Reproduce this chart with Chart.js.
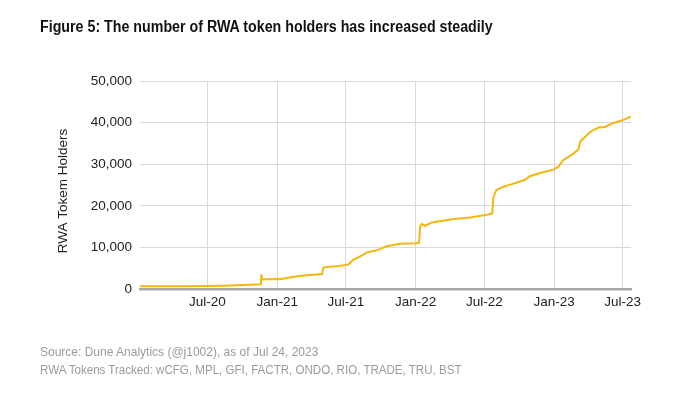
<!DOCTYPE html>
<html>
<head>
<meta charset="utf-8">
<script src="https://cdn.jsdelivr.net/npm/chart.js@4.4.1/dist/chart.umd.min.js"></script>
<style>
  html, body { margin: 0; padding: 0; background: #fff; }
  #wrap { position: relative; width: 674px; height: 393px; overflow: hidden; }
  #c { position: absolute; left: 0; top: 0; }
  .txt { position: absolute; left: 40px; white-space: nowrap; font-family: 'Liberation Sans', Arial, sans-serif; transform-origin: 0 50%; }
  #title { top: 18px; font-size: 16px; font-weight: bold; color: #111; transform: scaleX(0.89); }
  .foot { font-size: 12.5px; color: #9b9b9b; }
  #f1 { top: 345px; transform: scaleX(0.96); }
  #f2 { top: 363px; transform: scaleX(0.925); }
</style>
</head>
<body>
<div id="wrap">
  <canvas id="c" width="674" height="393"></canvas>
  <div id="title" class="txt">Figure 5: The number of RWA token holders has increased steadily</div>
  <div id="f1" class="txt foot">Source: Dune Analytics (@j1002), as of Jul 24, 2023</div>
  <div id="f2" class="txt foot">RWA Tokens Tracked: wCFG, MPL, GFI, FACTR, ONDO, RIO, TRADE, TRU, BST</div>
</div>
<script>
// ---- data ----
const dates = [
  '2020-01-05','2020-03-01','2020-05-01','2020-07-01','2020-08-15','2020-10-01','2020-11-19','2020-11-20','2020-11-22','2020-12-10',
  '2021-01-01','2021-01-09','2021-02-13','2021-03-20','2021-04-29','2021-05-03','2021-06-10','2021-07-08','2021-07-20','2021-08-03',
  '2021-08-26','2021-09-21','2021-10-17','2021-11-21','2021-12-31','2022-01-10','2022-01-13','2022-01-17','2022-01-26','2022-02-13',
  '2022-04-11','2022-05-25','2022-07-12','2022-07-22','2022-07-25','2022-08-02','2022-08-21','2022-09-08','2022-09-25','2022-10-15',
  '2022-10-29','2022-11-25','2022-12-30','2023-01-12','2023-01-25','2023-02-08','2023-02-21','2023-03-06','2023-03-12','2023-03-24',
  '2023-04-06','2023-04-28','2023-05-15','2023-06-06','2023-07-01','2023-07-23'
];
const holders = [
  650, 660, 690, 730, 800, 950, 1150, 3500, 2300, 2350,
  2400, 2350, 2950, 3300, 3600, 5200, 5500, 5900, 7000, 7600,
  8800, 9300, 10300, 10900, 11000, 11100, 15000, 15600, 15200, 16000,
  16800, 17200, 17900, 18200, 22000, 23800, 24600, 25100, 25600, 26200,
  27100, 27900, 28700, 29350, 30950, 31750, 32550, 33500, 35600, 36550,
  37750, 38800, 38950, 39900, 40550, 41500
];
const tickDates = ['2020-07-01','2021-01-01','2021-07-01','2022-01-01','2022-07-01','2023-01-01','2023-07-01'];
const tickLabels = ['Jul-20','Jan-21','Jul-21','Jan-22','Jul-22','Jan-23','Jul-23'];
const xRange = ['2020-01-05','2023-07-23'];
const yTicks = [0, 10000, 20000, 30000, 40000, 50000];
const yTitle = 'RWA Tokem Holders';

const toMs = s => Date.parse(s + 'T00:00:00Z');
const points = dates.map((d, i) => ({ x: toMs(d), y: holders[i] }));
const tickMs = tickDates.map(toMs);

const tickFont = { family: "'Liberation Sans', Arial, sans-serif", size: 13.5 };

// y-axis title drawn centred at the reference position
const yTitlePlugin = {
  id: 'yTitle',
  afterDraw(chart) {
    const { ctx, chartArea } = chart;
    ctx.save();
    ctx.translate(63, (chartArea.top + chartArea.bottom) / 2 + 6);
    ctx.rotate(-Math.PI / 2);
    ctx.font = "13.5px 'Liberation Sans', Arial, sans-serif";
    ctx.fillStyle = '#222';
    ctx.textAlign = 'center';
    ctx.textBaseline = 'middle';
    ctx.fillText(yTitle, 0, 0);
    ctx.restore();
  }
};

new Chart(document.getElementById('c'), {
  type: 'line',
  data: {
    datasets: [{
      data: points,
      borderColor: '#F5B70F',
      borderWidth: 2,
      pointRadius: 0,
      tension: 0,
      fill: false
    }]
  },
  plugins: [yTitlePlugin],
  options: {
    responsive: false,
    animation: false,
    events: [],
    layout: { padding: { top: 81, right: 43, left: 0, bottom: 0 } },
    plugins: { legend: { display: false }, tooltip: { enabled: false }, title: { display: false } },
    scales: {
      x: {
        type: 'linear',
        min: toMs(xRange[0]),
        max: toMs(xRange[1]),
        afterBuildTicks: s => { s.ticks = tickMs.map(v => ({ value: v })); },
        afterFit: s => { s.height = 104; },
        ticks: {
          autoSkip: false,
          maxRotation: 0,
          padding: 5,
          color: '#222',
          font: tickFont,
          callback: v => { const i = tickMs.indexOf(v); return i >= 0 ? tickLabels[i] : ''; }
        },
        grid: { color: '#d9d9d9', lineWidth: 1, drawTicks: false },
        border: { display: true, color: '#a8a8a8', width: 2.5 }
      },
      y: {
        min: 0,
        max: 50000,
        afterBuildTicks: s => { s.ticks = yTicks.map(v => ({ value: v })); },
        afterFit: s => { s.width = 140; },
        ticks: {
          padding: 8,
          color: '#222',
          font: tickFont,
          callback: v => v.toLocaleString('en-US')
        },
        grid: { color: c => c.tick && c.tick.value === 0 ? 'rgba(0,0,0,0)' : '#d9d9d9', lineWidth: 1, drawTicks: false },
        border: { display: false },
        title: { display: false }
      }
    }
  }
});
</script>
</body>
</html>
